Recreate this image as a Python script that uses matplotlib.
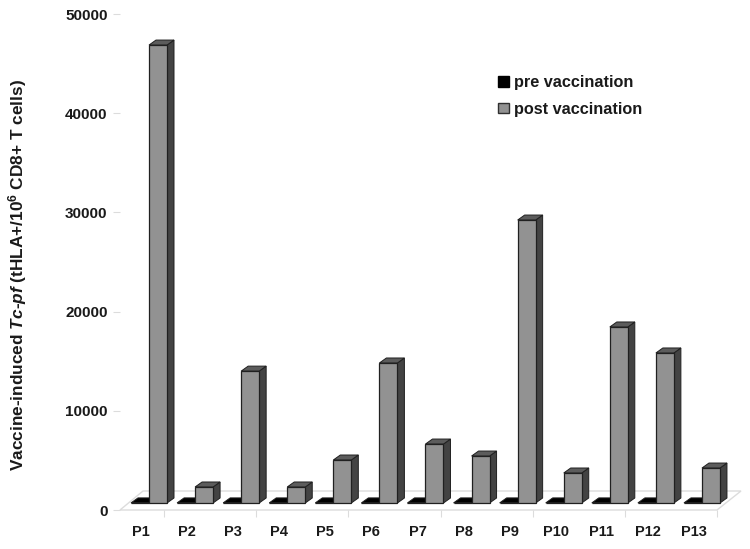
import matplotlib
matplotlib.use("Agg")
import matplotlib.pyplot as plt
from matplotlib.patches import Polygon, Patch

categories = ["P1","P2","P3","P4","P5","P6","P7","P8","P9","P10","P11","P12","P13"]
pre_values = [100]*13
post_values = [46870,2320,14000,2320,5040,14820,6650,5440,29230,3730,18450,15830,4230]
y_ticks = [0,10000,20000,30000,40000,50000]

plt.rcParams['font.family'] = ['Liberation Sans','DejaVu Sans']
plt.rcParams['font.weight'] = 'bold'
plt.rcParams['mathtext.fontset'] = 'custom'
plt.rcParams['mathtext.rm'] = 'Liberation Sans:bold'
plt.rcParams['mathtext.it'] = 'Liberation Sans:italic:bold'
plt.rcParams['mathtext.bf'] = 'Liberation Sans:bold'
plt.rcParams['mathtext.default'] = 'regular'

W, H = 750, 549
L, R, T, B = 120, 717, 14, 510
fig = plt.figure(figsize=(W/100, H/100), dpi=100)
ax = fig.add_axes([L/W, 1-B/H, (R-L)/W, (B-T)/H])

CAT = 46.08
x0 = (L-141)/CAT
ax.set_xlim(x0, x0+(R-L)/CAT)
ax.set_ylim(0, 50000)
PXY = 50000/(B-T)

def px(v): return v/CAT
def py(v): return v*PXY

# floor
xl, xr = ax.get_xlim()
ax.add_patch(Polygon([(xl,0),(xr,0),(xr+px(24),py(19)),(xl+px(23),py(19))],
                     closed=True, fc='white', ec='#dcdcdc', lw=1.0, clip_on=False, zorder=1))

base = py(7)
dx, dy = px(7), py(5)
def box(x1, x2, top, front, side, topc, z):
    ec = '#202020'
    ax.add_patch(Polygon([(x2,base),(x2+dx,base+dy),(x2+dx,top+dy),(x2,top)], fc=side, ec=ec, lw=0.7, clip_on=False, zorder=z))
    ax.add_patch(Polygon([(x1,top),(x2,top),(x2+dx,top+dy),(x1+dx,top+dy)], fc=topc, ec=ec, lw=0.7, clip_on=False, zorder=z))
    if top > base:
        ax.add_patch(Polygon([(x1,base),(x2,base),(x2,top),(x1,top)], fc=front, ec=ec, lw=0.9, clip_on=False, zorder=z+0.1))

for i, (a, b) in enumerate(zip(pre_values, post_values)):
    box(i-px(10), i+px(8), base+a*0.1, 'black', 'black', 'black', 3)
    box(i+px(8), i+px(26), b, '#929292', '#434343', '#5c5c5c', 4)

ax.set_yticks(y_ticks)
ax.set_yticklabels([str(v) for v in y_ticks], fontsize=11, fontweight='bold', color='#1a1a1a')
ax.tick_params(axis='y', length=5, width=0.8, color='#dcdcdc', pad=4)
ax.set_xticks(range(13))
ax.set_xticklabels(categories, fontsize=10.5, fontweight='bold', color='#1a1a1a')
ax.tick_params(axis='x', which='major', length=0, pad=11)
ax.set_xticks([0.5+2*k for k in range(7)], minor=True)
ax.tick_params(axis='x', which='minor', length=5, width=0.8, color='#dcdcdc')
for s in ax.spines.values():
    s.set_visible(False)
ax.patch.set_alpha(0)

fig.text(18/W, 1-275/H, r"Vaccine-induced $\mathit{Tc}$-$\mathit{pf}$ (tHLA+/10$^{6}$ CD8+ T cells)",
         rotation=90, ha='center', va='center', fontsize=12.4, fontweight='bold', color='#1a1a1a')

handles = [Patch(fc='black', ec='black', label='pre vaccination'),
           Patch(fc='#929292', ec='#303030', label='post vaccination')]
leg = ax.legend(handles=handles, loc='upper left', bbox_to_anchor=((495-L)/(R-L), 1-(72-T)/(B-T)),
                frameon=False, fontsize=11.7, handlelength=0.65, handleheight=0.62, handletextpad=0.35,
                labelspacing=0.72, borderaxespad=0, borderpad=0.2)
for t in leg.get_texts():
    t.set_color('#1a1a1a')
fig.savefig('out.png', dpi=100)
